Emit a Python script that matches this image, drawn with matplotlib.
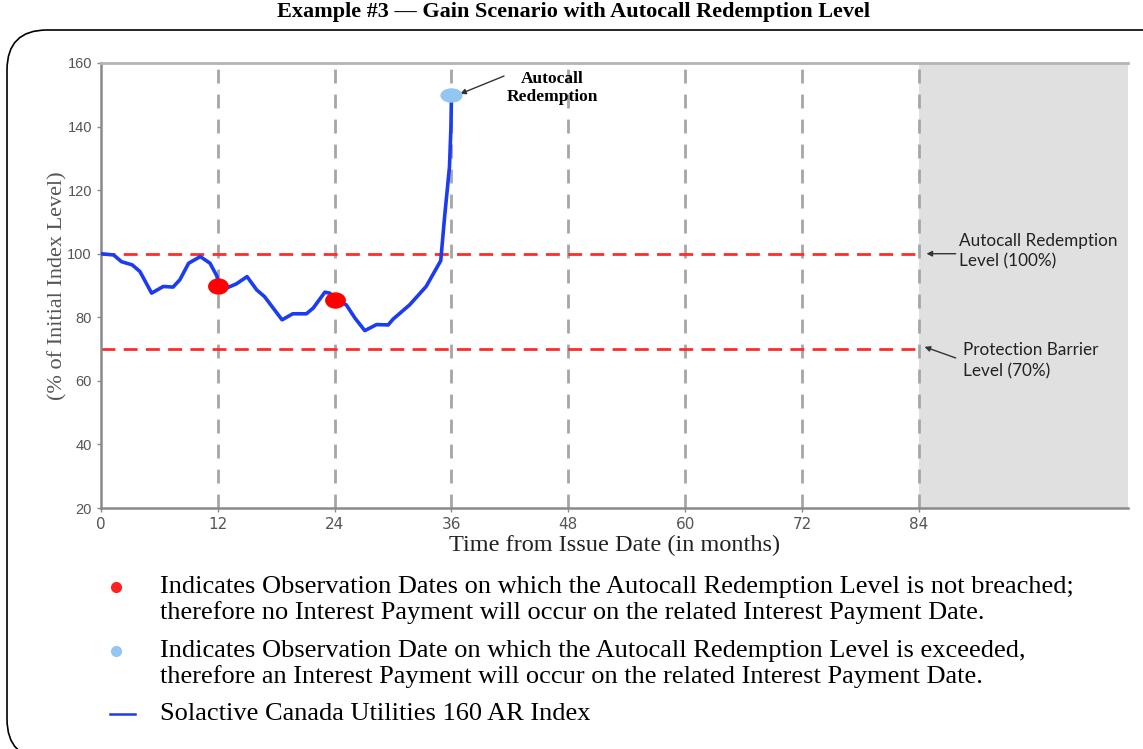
import matplotlib
matplotlib.use("Agg")
import matplotlib.pyplot as plt
from matplotlib.patches import FancyBboxPatch
from matplotlib.path import Path
from matplotlib.transforms import Affine2D

# ---- data ----
months = [0, 1.3, 2.1, 3.2, 4.0, 5.2, 6.4, 7.4, 8.1, 9.0, 10.2, 11.2, 11.9,
          12.2, 12.9, 13.9, 15.0, 16.0, 16.8, 18.6, 19.7, 21.1, 21.8, 23.0,
          23.5, 24.1, 25.2, 26.1, 27.1, 28.3, 29.5, 30.0, 31.7, 33.4, 34.9,
          35.3, 35.8, 35.95, 36.0]
index_level = [100, 99.6, 97.5, 96.5, 94.4, 87.6, 89.7, 89.5, 91.8, 97.0,
               99.1, 97.0, 93.0, 89.3, 89.2, 90.5, 92.8, 88.6, 86.5, 79.2,
               81.1, 81.1, 82.9, 87.9, 87.6, 85.5, 83.9, 79.7, 75.8, 77.7,
               77.6, 79.4, 83.9, 89.7, 97.8, 111.7, 127.4, 140.0, 150.0]

obs_not_breached_x = [12, 24]
obs_not_breached_y = [90, 85.5]
obs_exceeded_x = [36]
obs_exceeded_y = [150]

grid_months = [12, 24, 36, 48, 60, 72, 84]
autocall_level = 100
barrier_level = 70
term_end = 84
xticks = [0, 12, 24, 36, 48, 60, 72, 84]
yticks = [20, 40, 60, 80, 100, 120, 140, 160]

title = "Example #3 \u2014 Gain Scenario with Autocall Redemption Level"
legend_lines = [
    "Indicates Observation Dates on which the Autocall Redemption Level is not breached;",
    "therefore no Interest Payment will occur on the related Interest Payment Date.",
    "Indicates Observation Date on which the Autocall Redemption Level is exceeded,",
    "therefore an Interest Payment will occur on the related Interest Payment Date.",
    "Solactive Canada Utilities 160 AR Index",
]

W, H = 1143, 749
fig = plt.figure(figsize=(W / 100, H / 100), dpi=100)

# rounded frame (pixel coords)
frame = FancyBboxPatch((7 + 40, 0 - 10 + 40), 1200, 719 + 10 - 80,
                       boxstyle="round,pad=40", transform=None,
                       facecolor="none", edgecolor="black", lw=1.2,
                       clip_on=False)
fig.patches.append(frame)

fig.text(574 / W, 1 - 2 / H, title, ha="center", va="top",
         family="Liberation Serif", weight="bold", fontsize=16)

ax = fig.add_axes([101 / W, 1 - 508 / H, (1128 - 101) / W, (508 - 63) / H])
ax.set_xlim(0, 105.5)
ax.set_ylim(20, 160)

ax.axvspan(term_end, 105.5, color="#e0e0e0", zorder=0, lw=0)
for gm in grid_months:
    ax.axvline(gm, color="#a6a6a6", lw=2, dashes=(5, 4), zorder=1)
ax.hlines([autocall_level, barrier_level], 0, term_end, colors="#ff2b2b",
          lw=2, linestyles=(0, (5, 3)), zorder=2)

ax.plot(months, index_level, color="#1b3cf0", lw=2.6, zorder=3,
        solid_capstyle="round", solid_joinstyle="round")

circ = Path.unit_circle()
ell_red = circ.transformed(Affine2D().scale(1.3, 1.0))
ell_blue = circ.transformed(Affine2D().scale(1.6, 1.0))
ax.plot(obs_not_breached_x, obs_not_breached_y, linestyle="none",
        marker=ell_red, color="#ff0000", ms=14, zorder=4)
ax.plot(obs_exceeded_x, obs_exceeded_y, linestyle="none", marker=ell_blue,
        color="#93c6f3", ms=15, zorder=4)

# spines
for s in ["left", "bottom"]:
    ax.spines[s].set_color("#8a8a8a")
    ax.spines[s].set_linewidth(1.8)
ax.spines["top"].set_color("#b4b4b4")
ax.spines["top"].set_linewidth(2)
ax.spines["right"].set_visible(False)

ax.set_xticks(xticks)
ax.set_yticks(yticks)
ax.tick_params(axis="both", colors="#8a8a8a", length=3, width=1,
               labelcolor="#555555")
for lab in ax.get_yticklabels():
    lab.set_family(["Liberation Sans", "DejaVu Sans"])
    lab.set_fontsize(10.5)
for lab in ax.get_xticklabels():
    lab.set_family(["Liberation Sans Narrow", "DejaVu Sans"])
    lab.set_fontsize(11)

ax.set_xlabel("Time from Issue Date (in months)", family="Liberation Serif",
              fontsize=17.5, color="#222222", labelpad=2)
ax.set_ylabel("(% of Initial Index Level)", family="Liberation Serif",
              fontsize=16, color="#555555", labelpad=0)

arrow = dict(arrowstyle="-|>", color="#333333", lw=1, mutation_scale=8,
             shrinkA=0, shrinkB=0)
ax.annotate("", xy=(36.9, 150.3), xytext=(41.4, 155.9), arrowprops=arrow)
ax.text(46.4, 152.1, "Autocall\nRedemption", ha="center", va="center",
        family="Liberation Serif", weight="bold", fontsize=12.5,
        linespacing=1.15)

ax.annotate("", xy=(84.8, 100), xytext=(87.8, 100), arrowprops=arrow)
ax.text(88.1, 100.7, "Autocall Redemption\nLevel (100%)", ha="left",
        va="center", family="Lato", fontsize=12.3, color="#222222",
        linespacing=1.35)
ax.annotate("", xy=(84.6, 70.7), xytext=(87.8, 67.2), arrowprops=arrow)
ax.text(88.5, 66.3, "Protection Barrier\nLevel (70%)", ha="left",
        va="center", family="Lato", fontsize=12.3, color="#222222",
        linespacing=1.35)

# legend text below
ys = [587, 613, 651, 677, 714]
for y, t in zip(ys, legend_lines):
    fig.text(160 / W, 1 - y / H, t, ha="left", va="center",
             family="Liberation Serif", fontsize=19, color="#000000")
fig.lines.append(plt.Line2D([116 / W], [1 - 587 / H], marker="o",
                            color="#ff2020", ms=7, transform=fig.transFigure))
fig.lines.append(plt.Line2D([116 / W], [1 - 651 / H], marker="o",
                            color="#93c6f3", ms=7, transform=fig.transFigure))
fig.lines.append(plt.Line2D([110 / W, 135 / W], [1 - 714 / H, 1 - 714 / H],
                            color="#1b3cf0", lw=1.8,
                            transform=fig.transFigure))

fig.savefig("out.png", dpi=100)
